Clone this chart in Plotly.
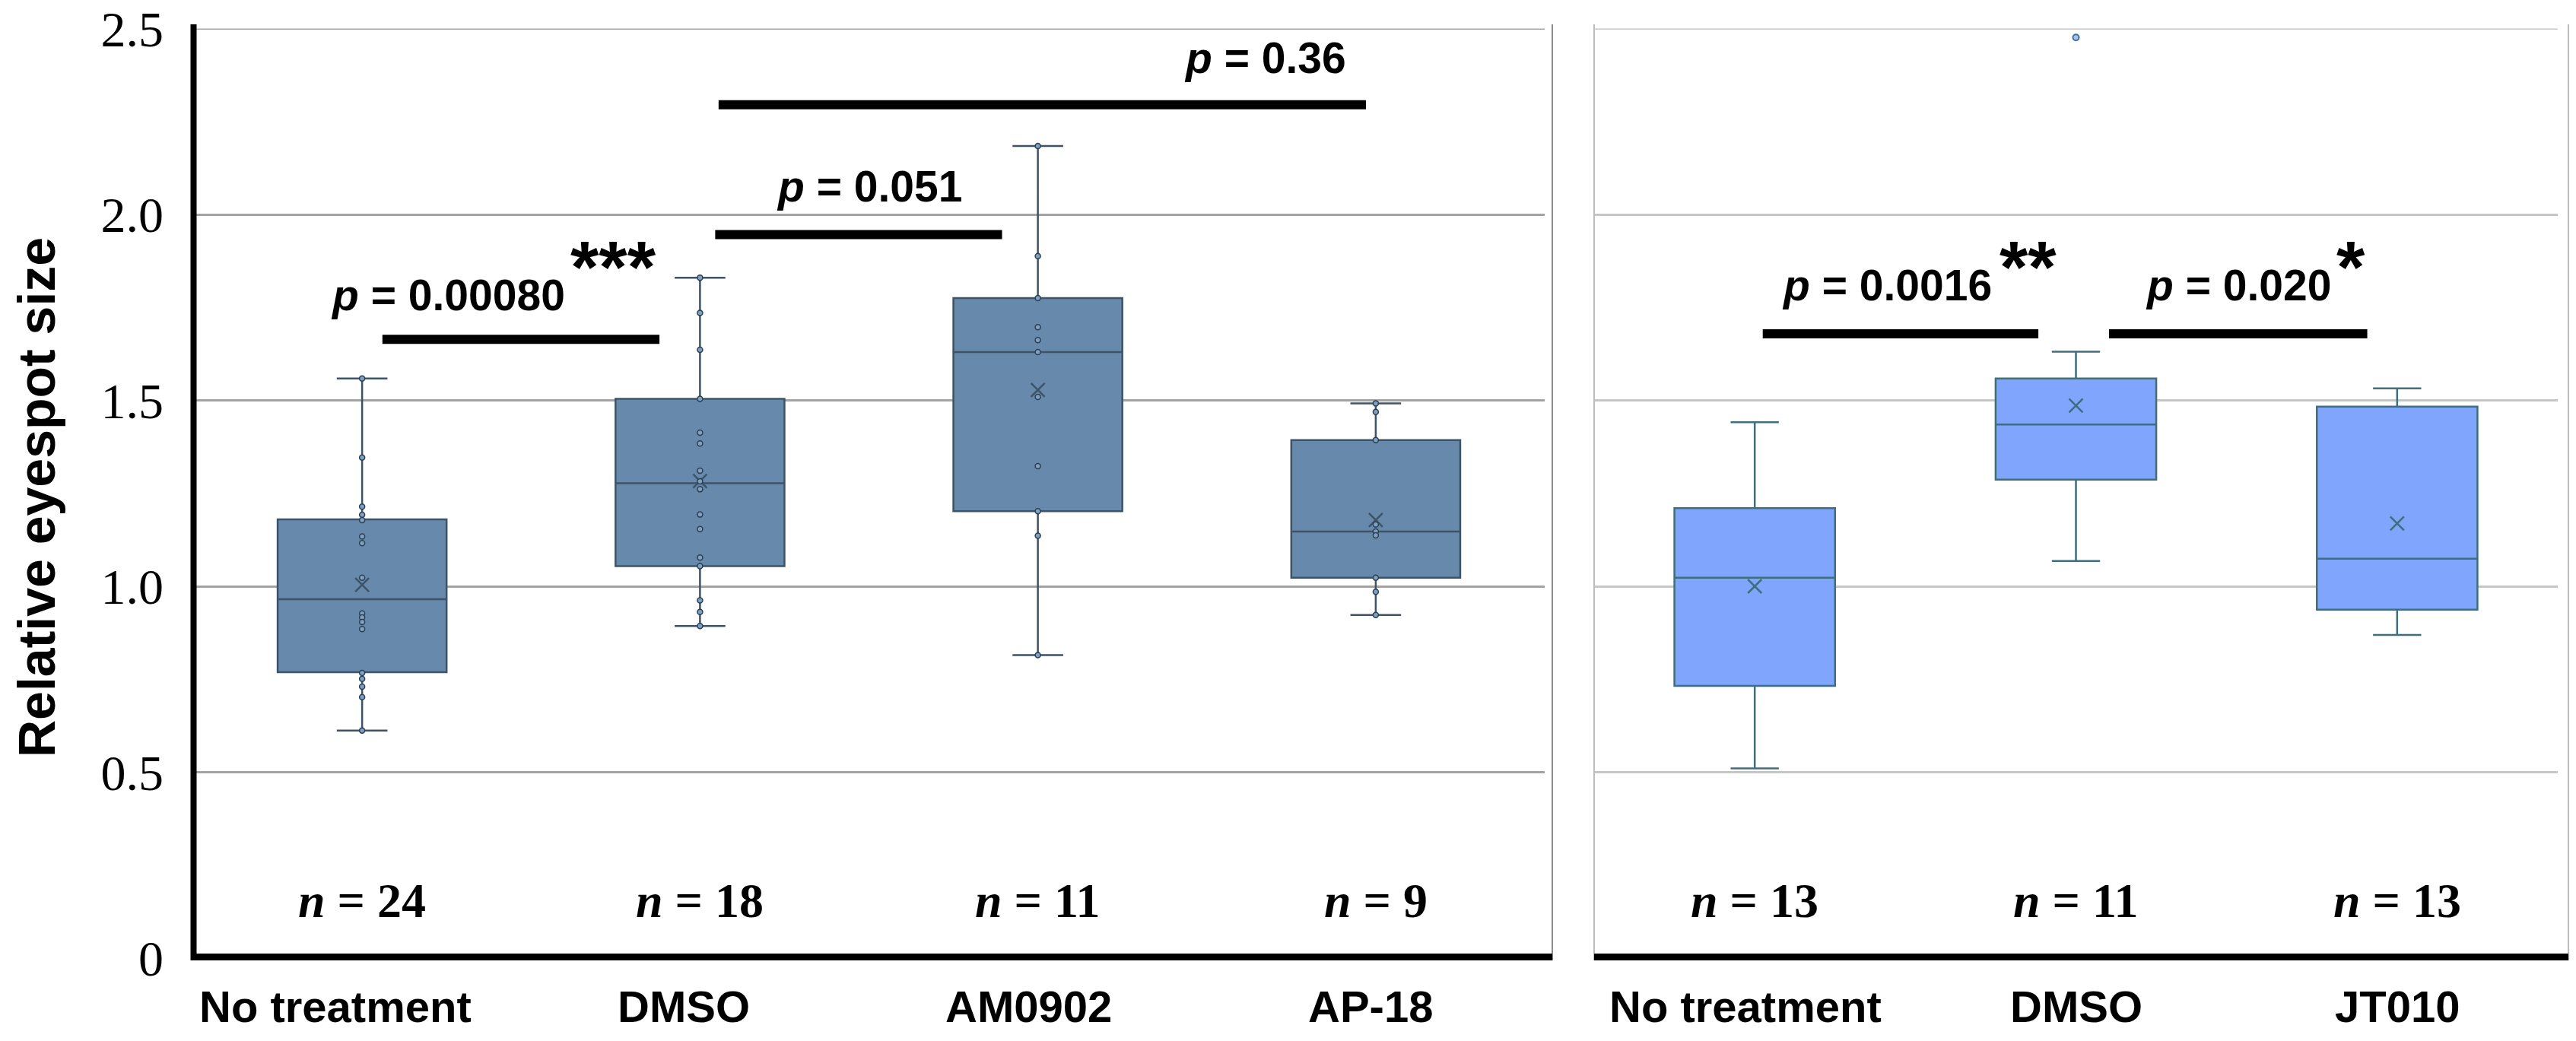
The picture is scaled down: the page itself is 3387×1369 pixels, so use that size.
import plotly.graph_objects as go

# ---- data ----
left_cats = ["No treatment", "DMSO", "AM0902", "AP-18"]
left_q1 = [0.769, 1.054, 1.202, 1.023]
left_median = [0.965, 1.277, 1.630, 1.147]
left_q3 = [1.180, 1.504, 1.775, 1.393]
left_low = [0.612, 0.893, 0.815, 0.923]
left_high = [1.559, 1.830, 2.184, 1.492]
left_mean = [1.004, 1.283, 1.528, 1.178]
left_n = [24, 18, 11, 9]

right_cats = ["No treatment", "DMSO", "JT010"]
right_q1 = [0.732, 1.287, 0.937]
right_median = [1.023, 1.435, 1.074]
right_q3 = [1.210, 1.559, 1.483]
right_low = [0.510, 1.068, 0.869]
right_high = [1.441, 1.631, 1.532]
right_mean = [1.000, 1.486, 1.169]
right_n = [13, 11, 13]

# individual points shown on the left panel boxes
pts_no_treatment = [1.559, 1.346, 1.214, 1.192, 1.178, 1.134, 1.116, 1.023, 0.927,
                    0.916, 0.904, 0.885, 0.767, 0.751, 0.730, 0.702, 0.612]
pts_dmso = [1.830, 1.735, 1.636, 1.504, 1.413, 1.384, 1.311, 1.282, 1.261, 1.193,
            1.154, 1.077, 1.054, 0.962, 0.931, 0.893]
pts_am0902 = [2.184, 1.888, 1.775, 1.697, 1.662, 1.630, 1.509, 1.323, 1.202, 1.136, 0.815]
pts_ap18 = [1.492, 1.469, 1.393, 1.166, 1.147, 1.137, 1.023, 0.985, 0.923]
left_points = [pts_no_treatment, pts_dmso, pts_am0902, pts_ap18]
right_outliers = [[], [2.476], []]

y_ticks = [0, 0.5, 1.0, 1.5, 2.0, 2.5]
y_ticktext = ["0", "0.5", "1.0", "1.5", "2.0", "2.5"]

# comparisons: (panel, x0, x1, y, label, label_x, label_y, stars, stars_x, stars_y)
comparisons = [
    ("x", 0.06, 0.88, 1.664, "0.00080", 0.254, 1.783, "***", 0.743, 1.86),
    ("x", 1.045, 1.894, 1.946, "0.051", 1.50, 2.076, "", 0, 0),
    ("x", 1.055, 2.971, 2.295, "0.36", 2.672, 2.422, "", 0, 0),
    ("x2", 0.025, 0.883, 1.679, "0.0016", 0.411, 1.81, "**", 0.851, 1.86),
    ("x2", 1.103, 1.907, 1.679, "0.020", 1.506, 1.81, "*", 1.856, 1.86),
]

W, H = 3387, 1369
LEFT_FILL, LEFT_LINE = "#6789ab", "#3d5468"
RIGHT_FILL, RIGHT_LINE = "#7fa5fc", "#3f6e7c"
left_label_shift = [-35, -21, -12, -7]
right_label_shift = [-12, 0, 0]


def px(x):
    return x / W


def py(y):
    return 1 - y / H


fig = go.Figure()


def add_panel(cats, q1, med, q3, lo, hi, mean, fill, line, xa, ya):
    for i, c in enumerate(cats):
        fig.add_trace(go.Box(
            x=[c], q1=[q1[i]], median=[med[i]], q3=[q3[i]],
            lowerfence=[lo[i]], upperfence=[hi[i]],
            width=0.5, whiskerwidth=0.3, boxpoints=False,
            fillcolor=fill, line=dict(color=line, width=2.5),
            xaxis=xa, yaxis=ya, hoverinfo="skip",
        ))
    fig.add_trace(go.Scatter(
        x=cats, y=mean, mode="markers", xaxis=xa, yaxis=ya,
        marker=dict(symbol="x-thin", size=18, line=dict(color=line, width=2.5)),
        hoverinfo="skip",
    ))


add_panel(left_cats, left_q1, left_median, left_q3, left_low, left_high,
          left_mean, LEFT_FILL, LEFT_LINE, "x", "y")
add_panel(right_cats, right_q1, right_median, right_q3, right_low, right_high,
          right_mean, RIGHT_FILL, RIGHT_LINE, "x2", "y2")

for c, pts in zip(left_cats, left_points):
    fig.add_trace(go.Scatter(
        x=[c] * len(pts), y=pts, mode="markers", xaxis="x", yaxis="y",
        marker=dict(size=7, color="#7fa0c4", line=dict(color="#2b3f4f", width=1.5)),
        hoverinfo="skip",
    ))

for c, pts in zip(right_cats, right_outliers):
    if pts:
        fig.add_trace(go.Scatter(
            x=[c] * len(pts), y=pts, mode="markers", xaxis="x2", yaxis="y2",
            marker=dict(size=8, color="#a9c4e8", line=dict(color="#3d6fa8", width=2)),
            hoverinfo="skip",
        ))

annotations = []
shapes = []

# top gridline at 2.5 in both panels
shapes.append(dict(type="line", xref="x", yref="y", x0=-0.5, x1=3.5, y0=2.5, y1=2.5,
                   line=dict(color="#a3a3a3", width=3), layer="below"))
shapes.append(dict(type="line", xref="x2", yref="y2", x0=-0.5, x1=2.5, y0=2.5, y1=2.5,
                   line=dict(color="#c6c6c6", width=3), layer="below"))

# significance bars and labels
for xa, x0, x1, yb, lab, lx, ly, st, sx, sy in comparisons:
    ya = "y" if xa == "x" else "y2"
    shapes.append(dict(type="line", xref=xa, yref=ya, x0=x0, x1=x1, y0=yb, y1=yb,
                       line=dict(color="black", width=12)))
    annotations.append(dict(xref=xa, yref=ya, x=lx, y=ly, showarrow=False,
                            xanchor="center", text="<b><i>p</i> = " + lab + "</b>",
                            font=dict(family="Liberation Sans", size=57, color="black")))
    if st:
        annotations.append(dict(xref=xa, yref=ya, x=sx, y=sy, showarrow=False,
                                xanchor="center", text="<b>" + st + "</b>",
                                font=dict(family="Liberation Sans", size=96, color="black")))

# n labels and category labels
n_font = dict(family="Liberation Serif", size=64, color="black")
cat_font = dict(family="Liberation Sans", size=58, color="black")
for xa, ya, cats, ns, shifts in [("x", "y", left_cats, left_n, left_label_shift),
                                 ("x2", "y2", right_cats, right_n, right_label_shift)]:
    for i, n in enumerate(ns):
        annotations.append(dict(xref=xa, yref=ya, x=i, y=0.155, showarrow=False,
                                xanchor="center", text="<b><i>n</i> = %d</b>" % n,
                                font=n_font))
        annotations.append(dict(xref=xa, yref="paper", x=i, y=py(1323), showarrow=False,
                                xshift=shifts[i], xanchor="center", yanchor="middle",
                                text="<b>" + cats[i] + "</b>", font=cat_font))

# y axis title
annotations.append(dict(xref="paper", yref="paper", x=px(48), y=py(654), showarrow=False,
                        xanchor="center", yanchor="middle", textangle=-90,
                        text="<b>Relative eyespot size</b>",
                        font=dict(family="Liberation Sans", size=68, color="black")))

# frames: thin grey borders, thick black axes
shapes += [
    dict(type="line", xref="paper", yref="paper", x0=px(2041), x1=px(2041),
         y0=py(1263), y1=py(32), line=dict(color="#8c8c8c", width=2)),
    dict(type="line", xref="paper", yref="paper", x0=px(2096), x1=px(2096),
         y0=py(1263), y1=py(32), line=dict(color="#bdbdbd", width=2)),
    dict(type="line", xref="paper", yref="paper", x0=px(3377), x1=px(3377),
         y0=py(1263), y1=py(32), line=dict(color="#bdbdbd", width=2)),
    dict(type="line", xref="paper", yref="paper", x0=px(254.5), x1=px(254.5),
         y0=py(1263), y1=py(32), line=dict(color="black", width=8)),
    dict(type="line", xref="paper", yref="paper", x0=px(251), x1=px(2041),
         y0=py(1258.5), y1=py(1258.5), line=dict(color="black", width=9)),
    dict(type="line", xref="paper", yref="paper", x0=px(2096), x1=px(3377),
         y0=py(1258.5), y1=py(1258.5), line=dict(color="black", width=9)),
]

ydom = [py(1260), py(37.5)]

fig.update_layout(
    width=W, height=H,
    margin=dict(l=0, r=0, t=0, b=0, autoexpand=False),
    paper_bgcolor="white", plot_bgcolor="white",
    showlegend=False, hovermode=False,
    xaxis=dict(domain=[px(254), px(2031)], anchor="y", type="category",
               categoryarray=left_cats, range=[-0.5, 3.5], showgrid=False,
               zeroline=False, showline=False, ticks="", showticklabels=False,
               automargin=False),
    xaxis2=dict(domain=[px(2096), px(3363)], anchor="y2", type="category",
                categoryarray=right_cats, range=[-0.5, 2.5], showgrid=False,
                zeroline=False, showline=False, ticks="", showticklabels=False,
                automargin=False),
    yaxis=dict(domain=ydom, anchor="x", range=[0, 2.5], tickvals=y_ticks,
               ticktext=y_ticktext, showgrid=True, gridcolor="#a3a3a3", gridwidth=3,
               zeroline=False, showline=False, ticks="", automargin=False,
               tickfont=dict(family="Liberation Serif", size=66, color="black"),
               ticklabelstandoff=38),
    yaxis2=dict(domain=ydom, anchor="x2", range=[0, 2.5], tickvals=y_ticks,
                showticklabels=False, showgrid=True, gridcolor="#c6c6c6", gridwidth=3,
                zeroline=False, showline=False, ticks="", automargin=False),
    annotations=annotations,
    shapes=shapes,
)

# drop the browser's default body margin so the figure sits at the page corner
fig.write_html("out.html", config={"displayModeBar": False},
               post_script="document.body.style.margin='0';")
